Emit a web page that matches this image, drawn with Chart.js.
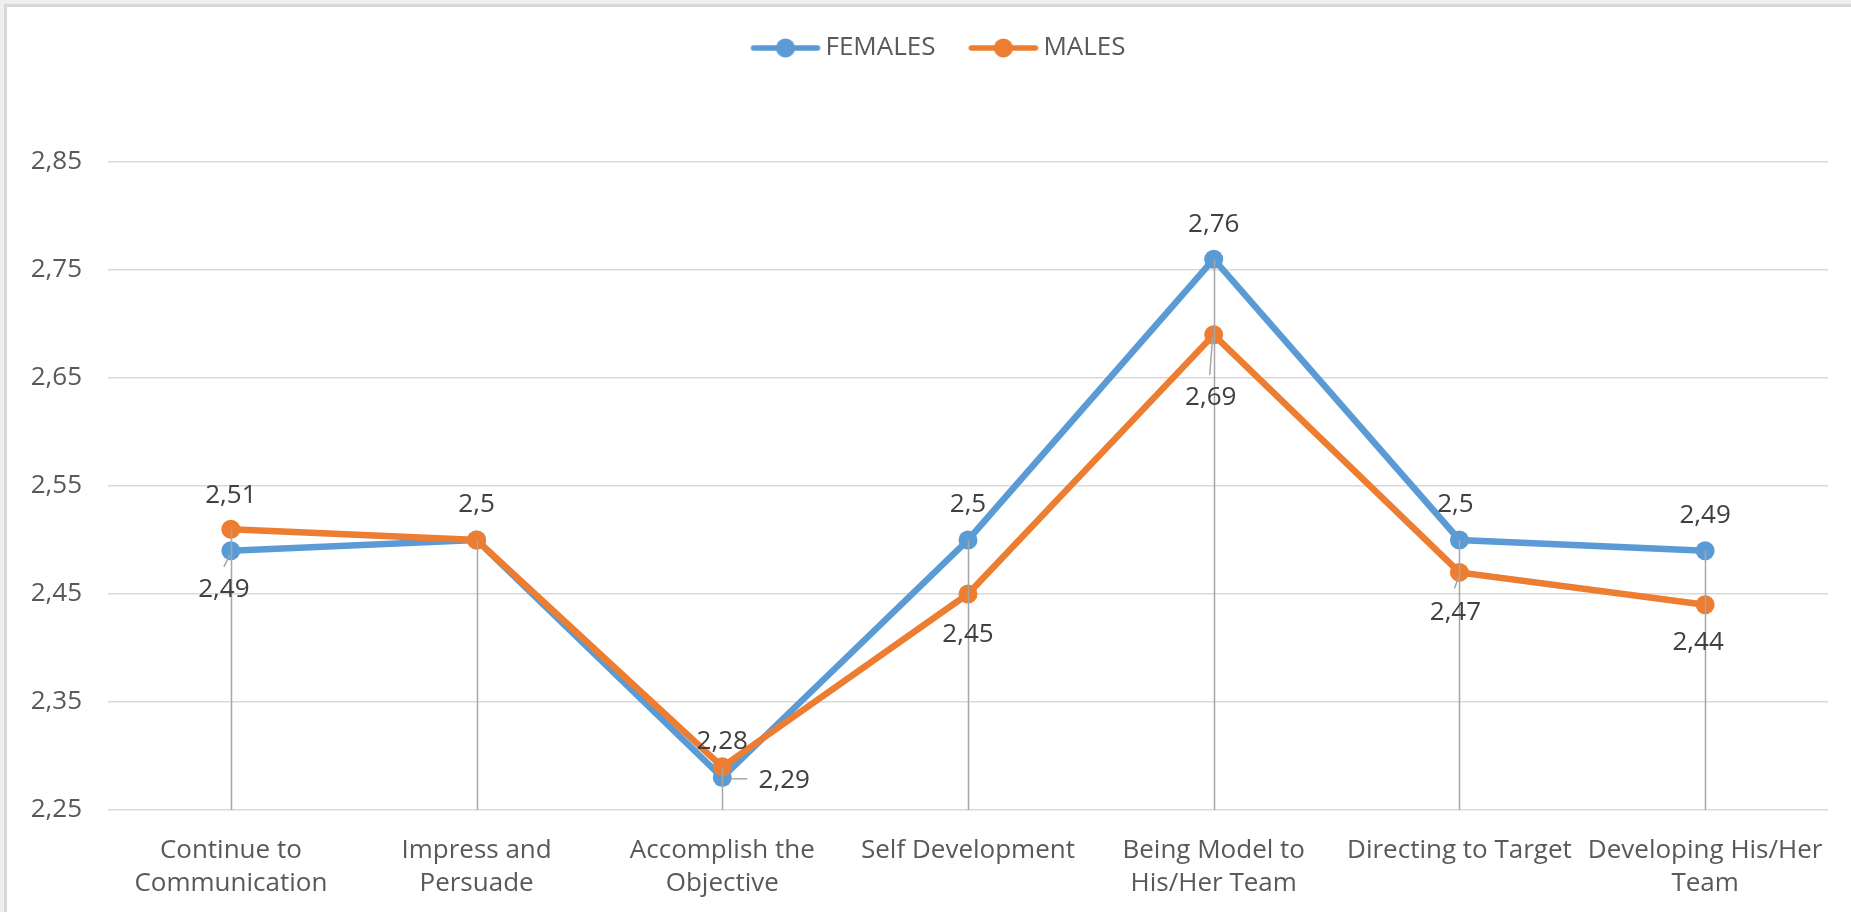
<!DOCTYPE html>
<html>
<head>
<meta charset="utf-8">
<script src="https://cdn.jsdelivr.net/npm/chart.js@4/dist/chart.umd.min.js"></script>
<style>
 html, body { margin: 0; padding: 0; background: #efefef; overflow: hidden; }
 #frame { position: absolute; left: 4px; top: 4px; right: 0; bottom: 0; background: #fff; border-left: 3px solid #d9d9d9; border-top: 3px solid #d9d9d9; }
 #wrap { position: absolute; left: 0; top: 0; width: 1851px; height: 912px; }
</style>
</head>
<body>
<div id="frame"></div>
<div id="wrap"><canvas id="chart"></canvas></div>
<script>
const categories = [
 ['Continue to', 'Communication'],
 ['Impress and', 'Persuade'],
 ['Accomplish the', 'Objective'],
 'Self Development',
 ['Being Model to', 'His/Her Team'],
 'Directing to Target',
 ['Developing His/Her', 'Team'],
];
const females = [2.49, 2.5, 2.28, 2.5, 2.76, 2.5, 2.49];
const males = [2.51, 2.5, 2.29, 2.45, 2.69, 2.47, 2.44];
const yMin = 2.25;
const yMax = 2.85;
const yStep = 0.1;

const BLUE = '#5b9bd5';
const ORANGE = '#ed7d31';
const FONT = '"Open Sans", sans-serif';

const fmt = v => String(+v.toFixed(2)).replace('.', ',');

function legendIcon(color) {
 const c = document.createElement('canvas');
 c.width = 72; c.height = 22;
 const g = c.getContext('2d');
 g.strokeStyle = color; g.lineWidth = 5.5; g.lineCap = 'round';
 g.beginPath(); g.moveTo(4, 11); g.lineTo(68, 11); g.stroke();
 g.fillStyle = color;
 g.beginPath(); g.arc(36, 11, 9.5, 0, Math.PI * 2); g.fill();
 return c;
}

// vertical drop lines from the highest point of each category down to the axis
const dropLines = {
 id: 'dropLines',
 afterDatasetsDraw(chart, args, opts) {
 const { ctx, chartArea, scales: { x, y } } = chart;
 ctx.save();
 ctx.strokeStyle = opts.color;
 ctx.lineWidth = opts.width;
 categories.forEach((c, i) => {
 const top = Math.max(...chart.data.datasets.map(d => d.data[i]));
 const px = Math.round(x.getPixelForValue(i)) + 0.5;
 ctx.beginPath();
 ctx.moveTo(px, y.getPixelForValue(top));
 ctx.lineTo(px, chartArea.bottom);
 ctx.stroke();
 });
 ctx.restore();
 },
};

// data labels, placed relative to each point like the Excel original
const valueLabels = {
 id: 'valueLabels',
 afterDatasetsDraw(chart, args, opts) {
 const { ctx } = chart;
 ctx.save();
 ctx.font = opts.font;
 ctx.fillStyle = opts.color;
 ctx.textAlign = 'center';
 ctx.textBaseline = 'middle';
 chart.data.datasets.forEach((ds, di) => {
 const meta = chart.getDatasetMeta(di);
 meta.data.forEach((pt, i) => {
 const o = opts.offsets[di][i];
 if (!o) return;
 const lead = opts.leaders[di][i];
 if (lead) {
 ctx.strokeStyle = opts.leaderColor;
 ctx.lineWidth = 1.5;
 ctx.beginPath();
 ctx.moveTo(pt.x + lead[0], pt.y + lead[1]);
 ctx.lineTo(pt.x + lead[2], pt.y + lead[3]);
 ctx.stroke();
 }
 ctx.fillText(fmt(ds.data[i]), pt.x + o[0], pt.y + o[1]);
 });
 });
 ctx.restore();
 },
};

// reserve the empty band above the plot and nudge the legend like the original
const legendSpace = {
 id: 'legendSpace',
 beforeInit(chart, args, opts) {
 const fit = chart.legend.fit;
 chart.legend.fit = function () { fit.call(this); this.height = opts.height; };
 },
 afterLayout(chart, args, opts) {
 chart.legend.left += opts.shiftX;
 chart.legend.top += opts.shiftY;
 },
};

new Chart(document.getElementById('chart'), {
 type: 'line',
 data: {
 labels: categories,
 datasets: [
 {
 label: 'FEMALES', data: females, order: 1,
 borderColor: BLUE, backgroundColor: BLUE, borderWidth: 6.5,
 pointRadius: 9.5, pointBorderWidth: 0, pointBackgroundColor: BLUE,
 tension: 0,
 },
 {
 label: 'MALES', data: males, order: 0,
 borderColor: ORANGE, backgroundColor: ORANGE, borderWidth: 6.5,
 pointRadius: 9.5, pointBorderWidth: 0, pointBackgroundColor: ORANGE,
 tension: 0,
 },
 ],
 },
 options: {
 responsive: true,
 maintainAspectRatio: false,
 animation: false,
 layout: { padding: { left: 0, right: 23, top: 0, bottom: 0 } },
 plugins: {
 tooltip: { enabled: false },
 legend: {
 position: 'top',
 labels: {
 usePointStyle: true,
 pointStyleWidth: 54,
 padding: 41,
 color: '#595959',
 font: { family: FONT, size: 26 },
 sort: (a, b) => a.datasetIndex - b.datasetIndex,
 generateLabels(chart) {
 const items = Chart.defaults.plugins.legend.labels.generateLabels(chart);
 items.forEach(it => { it.pointStyle = legendIcon(chart.data.datasets[it.datasetIndex].borderColor); });
 return items;
 },
 },
 },
 legendSpace: { height: 162, shiftX: 56, shiftY: -6 },
 dropLines: { color: '#a6a6a6', width: 1.5 },
 valueLabels: {
 font: '26px ' + FONT,
 color: '#404040',
 leaderColor: '#a6a6a6',
 offsets: [
 [[-7, 39], [0, -35], [0, -36], [0, -35], [0, -35], [-4, -35], [0, -35]],
 [[0, -34], null, [62, 14], [0, 41], [-3, 63], [-4, 40], [-7, 38]],
 ],
 leaders: [
 [[-1, 4, -7, 16], null, null, null, null, null, null],
 [null, null, [8, 12, 25, 12], null, [-1, 2, -4, 40], [-1, 5, -5, 16], null],
 ],
 },
 },
 scales: {
 x: {
 type: 'category',
 offset: true,
 grid: { display: false },
 border: { display: false },
 ticks: {
 color: '#595959',
 font: { family: FONT, size: 26, lineHeight: 1.27 },
 padding: 16,
 maxRotation: 0,
 autoSkip: false,
 },
 afterFit: s => { s.height = 102; },
 },
 y: {
 min: yMin,
 max: yMax,
 grid: { color: '#d9d9d9', lineWidth: 1.5, drawTicks: false },
 border: { display: false },
 ticks: {
 stepSize: yStep,
 color: '#595959',
 font: { family: FONT, size: 26 },
 padding: 26,
 callback: v => v.toFixed(2).replace('.', ','),
 },
 afterFit: s => { s.width = 108; },
 },
 },
 },
 plugins: [legendSpace, dropLines, valueLabels],
});
</script>
</body>
</html>
